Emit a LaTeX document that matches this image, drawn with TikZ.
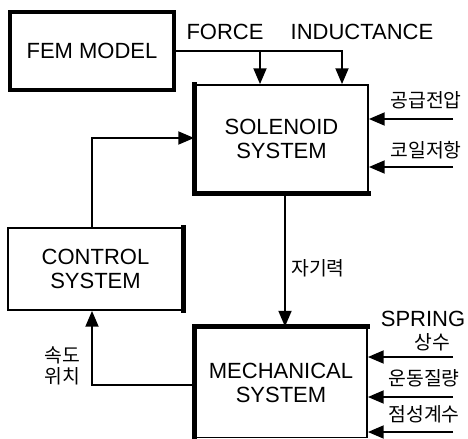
\documentclass[tikz,border=0pt]{standalone}
\usepackage{fontspec}
\setmainfont{Liberation Sans}
\newfontfamily\kr{Noto Sans CJK KR}
\usetikzlibrary{arrows.meta, positioning, calc}

\begin{document}
\begin{tikzpicture}[x=0.75pt, y=-0.75pt,
    block/.style={draw, line width=1.1pt, align=center, inner sep=0pt,
      font=\fontsize{16.5}{18}\selectfont},
    edge/.style={line width=4pt, line cap=rect},
    conn/.style={line width=2.2pt, -{Triangle[length=12pt, width=9.5pt]}},
    lbl/.style={font=\fontsize{16.5}{18}\selectfont},
    klbl/.style={font=\kr\fontsize{14.5}{16}\selectfont, align=center}]
  \useasboundingbox (0,0) rectangle (468,439);
  % blocks
  \node[block, line width=2.6pt, minimum width=164*0.75pt, minimum height=78*0.75pt] (fem) at (92,51) {FEM MODEL};
  \node[block, minimum width=173*0.75pt, minimum height=108*0.75pt] (sol) at (281.5,139) {SOLENOID\\SYSTEM};
  \node[block, minimum width=175*0.75pt, minimum height=82*0.75pt] (ctrl) at (95.5,269) {CONTROL\\SYSTEM};
  \node[block, minimum width=172*0.75pt, minimum height=110*0.75pt] (mech) at (281,382.5) {MECHANICAL\\SYSTEM};
  % heavy edges
  \draw[edge] (sol.north west) -- (sol.south west) -- (sol.south east);
  \draw[edge] (ctrl.north east) -- (ctrl.south east);
  \draw[edge] (mech.south west) -- (mech.north west) -- (mech.north east);
  % helper coordinates
  \coordinate (fx) at (260,0);
  \coordinate (ix) at (342,0);
  \coordinate (cx) at (92,0);
  \coordinate (mx) at (285,0);
  \coordinate (sl) at (0,138);
  \coordinate (fb) at (0,385);
  % FEM model outputs
  \draw[conn] (fem.east) -| (sol.north -| ix);
  \draw[conn] (fem.east -| fx) -- (sol.north -| fx);
  \node[lbl] (force) at (225,32) {FORCE};
  \node[lbl] (induc) at (362,32) {INDUCTANCE};
  % solenoid inputs
  \coordinate (s1) at (453,119);
  \coordinate (s2) at (453,167);
  \draw[conn] (s1) -- (s1 -| sol.east);
  \draw[conn] (s2) -- (s2 -| sol.east);
  \node[klbl] (volt) at (426,100) {공급전압};
  \node[klbl] (res) at (426,150) {코일저항};
  % control loop
  \draw[conn] (ctrl.north -| cx) |- (sol.west |- sl);
  \draw[conn] (sol.south -| mx) -- (mech.north -| mx);
  \node[klbl] (mag) at (318,268) {자기력};
  \draw[conn] (mech.west |- fb) -| (ctrl.south -| cx);
  \node[klbl] (vel) at (62,366) {속도\\위치};
  % mechanical inputs
  \coordinate (m1) at (453,357);
  \coordinate (m2) at (453,397);
  \coordinate (m3) at (453,432);
  \draw[conn] (m1) -- (m1 -| mech.east);
  \draw[conn] (m2) -- (m2 -| mech.east);
  \draw[conn] (m3) -- (m3 -| mech.east);
  \node[lbl] (spring) at (423,319) {SPRING};
  \node[klbl] (const) at (432,342) {상수};
  \node[klbl] (mass) at (424,378) {운동질량};
  \node[klbl] (damp) at (424,414) {점성계수};
\end{tikzpicture}
\end{document}
